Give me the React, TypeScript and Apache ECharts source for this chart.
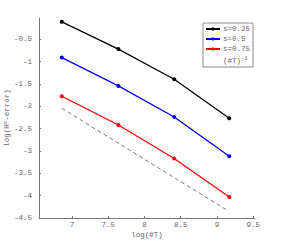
import React, { useEffect, useRef } from "react";
import * as echarts from "echarts";

const xValues = [6.86, 7.64, 8.41, 9.17];
const s025 = [-0.11, -0.72, -1.395, -2.27];
const s05 = [-0.91, -1.545, -2.24, -3.12];
const s075 = [-1.775, -2.42, -3.17, -4.03];
const refLine = [
  [6.86, -2.045],
  [9.16, -4.345],
];
const xTicks = [7, 7.5, 8, 8.5, 9, 9.5];
const yTicks = [-4.5, -4, -3.5, -3, -2.5, -2, -1.5, -1, -0.5];

const FONT = "Liberation Mono";
const TXT = "#666";
const AX = "#777";

export default function App() {
  const ref = useRef<HTMLDivElement>(null);
  useEffect(() => {
    const chart = echarts.init(ref.current!, undefined, { renderer: "svg" });
    const mk = (name: string, color: string, ys: number[]) => ({
      name,
      type: "line",
      data: xValues.map((x, i) => [x, ys[i]]),
      symbol: "circle",
      symbolSize: 4,
      lineStyle: { color, width: 1.3 },
      itemStyle: { color },
    });
    chart.setOption({
      animation: false,
      backgroundColor: "#fff",
      grid: { left: 39, right: 28, top: 18, bottom: 28, containLabel: false, outerBoundsMode: "none" },
      legend: {
        orient: "vertical",
        left: 203,
        top: 23,
        itemWidth: 14,
        itemHeight: 4,
        itemGap: 2,
        padding: [2, 3, 2, 2],
        borderColor: "#888",
        borderWidth: 1,
        backgroundColor: "#fff",
        data: [
          { name: "s=0.25" },
          { name: "s=0.5" },
          { name: "s=0.75" },
          { name: "inv", icon: "none" },
        ],
        formatter: (n: string) => (n === "inv" ? "(#T){sup|-1}" : n),
        textStyle: {
          fontFamily: FONT,
          fontSize: 7.5,
          color: TXT,
          padding: [0, 0, 0, -2],
          rich: {
            sup: { fontFamily: FONT, fontSize: 5.5, color: TXT, verticalAlign: "top", padding: [0, 0, 6, 0] },
          },
        },
      },
      xAxis: {
        type: "value",
        min: 6.545,
        max: 9.525,
        name: "log(#T)",
        nameLocation: "middle",
        nameGap: 13,
        nameMoveOverlap: false,
        nameTextStyle: { fontFamily: FONT, fontSize: 7.5, color: TXT },
        axisLine: { lineStyle: { color: AX, width: 1 } },
        axisTick: { inside: true, length: 2, lineStyle: { color: AX }, customValues: xTicks },
        axisLabel: {
          customValues: xTicks,
          fontFamily: FONT,
          fontSize: 7.5,
          color: TXT,
          margin: 3,
          formatter: (v: number) => String(v),
        },
        splitLine: { show: false },
      },
      yAxis: {
        type: "value",
        min: -4.5,
        max: -0.025,
        name: "log(H{sup|s}-error)",
        nameLocation: "middle",
        nameGap: 28,
        nameMoveOverlap: false,
        nameRotate: 90,
        nameTextStyle: {
          fontFamily: FONT,
          fontSize: 7.5,
          color: TXT,
          rich: {
            sup: { fontFamily: FONT, fontSize: 5.5, color: TXT, verticalAlign: "top", padding: [0, 0, 3, 0] },
          },
        },
        axisLine: { show: true, lineStyle: { color: AX, width: 1 } },
        axisTick: { show: true, inside: true, length: 2, lineStyle: { color: AX }, customValues: yTicks },
        axisLabel: {
          customValues: yTicks,
          fontFamily: FONT,
          fontSize: 7.5,
          color: TXT,
          margin: 7,
          formatter: (v: number) => String(v),
        },
        splitLine: { show: false },
      },
      series: [
        mk("s=0.25", "#000", s025),
        mk("s=0.5", "#0000ff", s05),
        mk("s=0.75", "#ff0000", s075),
        {
          name: "inv",
          type: "line",
          data: refLine,
          symbol: "none",
          lineStyle: { color: "#555", width: 0.8, type: [4, 3] },
          itemStyle: { color: "#555" },
        },
      ],
    });
    return () => chart.dispose();
  }, []);
  return (
    <div
      ref={ref}
      style={{ position: "absolute", left: 0, top: 0, width: 283, height: 246 }}
    />
  );
}
